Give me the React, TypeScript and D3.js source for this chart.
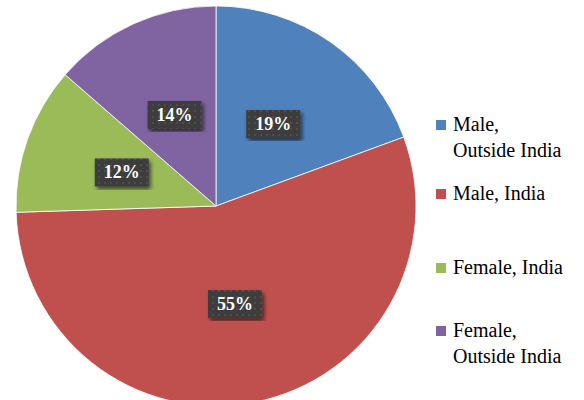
import React from 'react';
import * as d3 from 'd3';

const categories = ['Male, Outside India', 'Male, India', 'Female, India', 'Female, Outside India'];
const legendLines = [['Male,', 'Outside India'], ['Male, India'], ['Female, India'], ['Female,', 'Outside India']];
const values = [19.4, 55.1, 11.9, 13.6];
const colors = ['#4F81BD', '#C0504D', '#9BBB59', '#8064A2'];

const width = 584, height = 400;
const cx = 216, cy = 206, radius = 200;
const font = 'Times New Roman, Liberation Serif, Tinos, serif';

export default function App() {
  const arcs = d3.pie<number>().sort(null).value(d => d)(values);
  const arc = d3.arc<d3.PieArcDatum<number>>().innerRadius(0).outerRadius(radius);
  const total = d3.sum(values);

  // y de la primera linea de cada entrada de la leyenda
  const legendYs = [131, 200, 274, 337];

  return (
    <svg width={width} height={height} fontFamily={font}
      style={{ position: 'absolute', left: 0, top: 0, background: '#fff' }}>
      <defs>
        <pattern id="dots" width="6" height="6" patternUnits="userSpaceOnUse">
          <rect width="6" height="6" fill="#3d3d3d" />
          <circle cx="3" cy="3" r="1" fill="#535353" />
        </pattern>
        <filter id="shadow"><feDropShadow dx="2" dy="3" stdDeviation="2" floodOpacity="0.6" /></filter>
      </defs>
      <g transform={`translate(${cx},${cy})`}>
        {arcs.map((a, i) => (
          <path key={i} d={arc(a) || ''} fill={colors[i]} stroke="#fff" strokeWidth={0.8} />
        ))}
      </g>
      {arcs.map((a, i) => {
        const [x, y] = arc.centroid(a);
        return (
          <rect key={'r' + i} x={cx + x - 27} y={cy + y - 14} width={54} height={28}
            fill="url(#dots)" filter="url(#shadow)" />
        );
      })}
      {arcs.map((a, i) => {
        const [x, y] = arc.centroid(a);
        return (
          <text key={'t' + i} x={cx + x} y={cy + y + 6} textAnchor="middle" fill="#fff"
            fontWeight="bold" fontSize={18} fontFamily={font}>
            {Math.round((a.data / total) * 100) + '%'}
          </text>
        );
      })}
      {categories.map((c, i) => (
        <rect key={'k' + i} x={436} y={legendYs[i] - 11} width={10} height={10} fill={colors[i]} />
      ))}
      {legendLines.map((lines, i) =>
        lines.map((t, j) => (
          <text key={'g' + i + j} x={453} y={legendYs[i] + j * 26} fontSize={20}
            fontFamily={font}>{t}</text>
        ))
      )}
    </svg>
  );
}
